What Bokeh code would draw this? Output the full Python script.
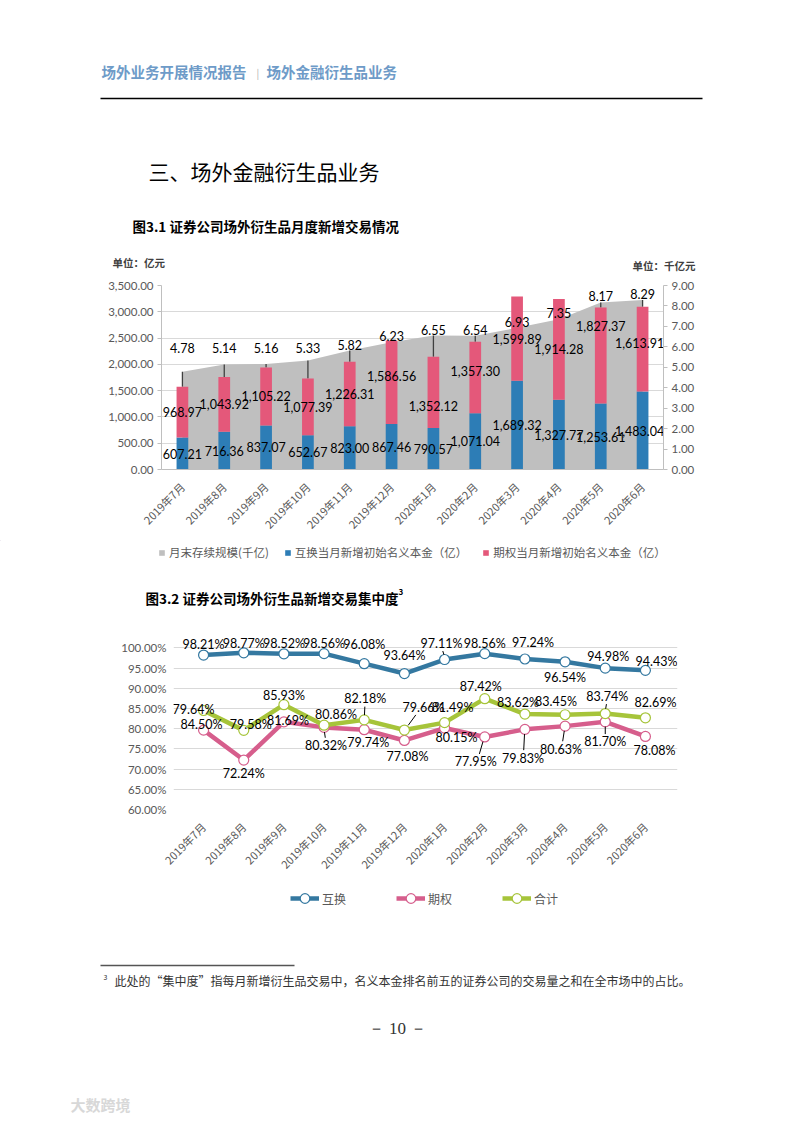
import math
import numpy as np
from bokeh.plotting import figure
from bokeh.models import (Range1d, LinearAxis, FixedTicker, NumeralTickFormatter,
                          PrintfTickFormatter, Legend, LegendItem)
from bokeh.embed import file_html
from bokeh.resources import INLINE
from bokeh.core.properties import value

# ---------------- data ----------------
months = ["2019年7月", "2019年8月", "2019年9月", "2019年10月", "2019年11月", "2019年12月",
          "2020年1月", "2020年2月", "2020年3月", "2020年4月", "2020年5月", "2020年6月"]
scale_qianyi = [4.78, 5.14, 5.16, 5.33, 5.82, 6.23, 6.55, 6.54, 6.93, 7.35, 8.17, 8.29]
swap_new = [607.21, 716.36, 837.07, 652.67, 823.00, 867.46, 790.57, 1071.04, 1689.32, 1327.77, 1253.61, 1483.04]
option_new = [968.97, 1043.92, 1105.22, 1077.39, 1226.31, 1586.56, 1352.12, 1357.30, 1599.89, 1914.28, 1827.37, 1613.91]
conc_swap = [98.21, 98.77, 98.52, 98.56, 96.08, 93.64, 97.11, 98.56, 97.24, 96.54, 94.98, 94.43]
conc_option = [79.64, 72.24, 81.69, 80.32, 79.74, 77.08, 80.15, 77.95, 79.83, 80.63, 81.70, 78.08]
conc_total = [84.50, 79.58, 85.93, 80.86, 82.18, 79.66, 81.49, 87.42, 83.62, 83.45, 83.74, 82.69]
left_ticks = [0, 500, 1000, 1500, 2000, 2500, 3000, 3500]
right_ticks = [0, 1, 2, 3, 4, 5, 6, 7, 8, 9]
pct_ticks = [60, 65, 70, 75, 80, 85, 90, 95, 100]
legend1_labels = ["月末存续规模(千亿)", "互换当月新增初始名义本金（亿）", "期权当月新增初始名义本金（亿）"]
legend2_labels = ["互换", "期权", "合计"]

# ---------------- styles ----------------
CJK_S = "Noto Sans CJK SC"
NUM_S = "Lato"
CJK = value(CJK_S)
NUM = value(NUM_S)
GRAY_TXT = "#595959"
BLUE_BAR, PINK_BAR, AREA = "#2d7db6", "#e4587a", "#bfbfbf"
C_SWAP, C_OPT, C_TOT = "#3478a0", "#d65e8c", "#a6c43a"
W = 785
OFF = -100   # off-canvas anchor for legend key glyphs (not shown in any frame)

# label nudges for figure 3.1 (screen px)
opt_dy = [0, 0, 0, 0, 0, -6, 14, -7, 0, 0, -30, -6]
last_dx = [0, 0, 0, 0, 0, 0, 0, 0, 0, 0, 0, -3]
# label pixel offsets for figure 3.2 (dx, dy; screen px)
swap_off = [(0, -11), (0, -9), (0, -10), (0, -10), (0, -19), (0, -18), (-3, -16), (0, -10), (8, -16), (0, 16), (3, -12), (11, -9)]
tot_off = [(-2, 14), (7, -6), (0, -9), (12, -11), (1, -21), (19, -23), (8, -15), (-4, -12), (-7, -12), (-9, -13), (2, -17), (10, -15)]
opt_off = [(-10, -21), (0, 13), (4, -1), (2, 18), (4, 13), (3, 16), (12, 9), (-9, 25), (-2, 29), (-4, 23), (0, 20), (9, 14)]
swap_lead, tot_lead, opt_lead = [6], [4, 5, 10], [3, 7, 8, 9, 10]


def text_fig(y0, y1):
    f = figure(width=W, height=y1 - y0, x_range=Range1d(0, W), y_range=Range1d(y1, y0),
               output_backend="svg", toolbar_location=None,
               min_border_left=0, min_border_right=0, min_border_top=0, min_border_bottom=0,
               x_axis_location=None, y_axis_location=None)
    f.grid.visible = False
    f.outline_line_color = None
    return f


def put(f, x, y, s, size, color="#000000", bold=False, align="left", font=CJK):
    f.text(x=[x], y=[y], text=[s], text_font=font, text_font_size=size,
           text_font_style="bold" if bold else "normal", text_color=color,
           text_align=align, text_baseline="middle")


# ---------------- header (page y 0..275) ----------------
hdr = text_fig(0, 275)
put(hdr, 101, 71, "场外业务开展情况报告", "14.5px", "#6e9bc8", bold=True)
put(hdr, 256, 72, "|", "10px", "#b0b0b0")
put(hdr, 266, 71, "场外金融衍生品业务", "14.5px", "#6e9bc8", bold=True)
hdr.segment(x0=[100], y0=[98], x1=[702], y1=[98], line_color="#000000", line_width=1.5)
put(hdr, 148, 170, "三、场外金融衍生品业务", "21px")
put(hdr, 132, 225, "图3.1 证券公司场外衍生品月度新增交易情况", "13.5px", bold=True)
put(hdr, 112, 262, "单位：亿元", "10.5px", "#404040", bold=True)
put(hdr, 632, 265, "单位：千亿元", "10.5px", "#404040", bold=True)

# ---------------- chart 3.1 (page y 275..540) ----------------
n = len(months)
xs = np.arange(n) + 0.5
swap_a = np.array(swap_new)
opt_a = np.array(option_new)
scale_a = np.array(scale_qianyi)
LMAX, RMAX = left_ticks[-1], right_ticks[-1]

p1 = figure(width=W, height=265, x_range=Range1d(0, n), y_range=Range1d(0, LMAX),
            output_backend="svg", toolbar_location=None,
            min_border_left=161, min_border_right=122, min_border_top=10, min_border_bottom=60)
p1.extra_y_ranges = {"r": Range1d(0, RMAX)}
p1.outline_line_color = None
p1.xgrid.visible = False
p1.ygrid.grid_line_color = "#d9d9d9"
p1.ygrid.ticker = FixedTicker(ticks=left_ticks)

p1.yaxis.ticker = FixedTicker(ticks=left_ticks)
p1.yaxis.formatter = NumeralTickFormatter(format="0,0.00")
rax = LinearAxis(y_range_name="r", ticker=FixedTicker(ticks=right_ticks),
                 formatter=NumeralTickFormatter(format="0.00"))
p1.add_layout(rax, "right")
for ax in (p1.yaxis[0], rax):
    ax.axis_line_color = "#bfbfbf"
    ax.major_tick_line_color = "#bfbfbf"
    ax.major_tick_out = 4
    ax.major_tick_in = 0
    ax.minor_tick_line_color = None
    ax.major_label_text_font = NUM_S
    ax.major_label_text_font_size = "11.5px"
    ax.major_label_text_color = GRAY_TXT
    ax.major_label_standoff = 4
p1.xaxis.ticker = FixedTicker(ticks=list(xs))
p1.xaxis.major_label_overrides = {float(x): m for x, m in zip(xs, months)}
p1.xaxis.major_label_orientation = math.pi / 4
p1.xaxis.axis_line_color = "#bfbfbf"
p1.xaxis.major_tick_line_color = None
p1.xaxis.minor_tick_line_color = None
p1.xaxis.major_label_text_font = CJK_S
p1.xaxis.major_label_text_font_size = "11px"
p1.xaxis.major_label_text_color = GRAY_TXT
p1.xaxis.major_label_standoff = 9

p1.varea(x=xs, y1=0, y2=scale_a, y_range_name="r", fill_color=AREA)
area_left = scale_a * LMAX / RMAX
tops = swap_a + opt_a
mask = tops < area_left
p1.segment(x0=xs[mask], y0=area_left[mask], x1=xs[mask], y1=tops[mask], line_color="#404040", line_width=1.3)
p1.vbar(x=xs, bottom=0, top=swap_a, width=0.28, fill_color=BLUE_BAR, line_color=None)
p1.vbar(x=xs, bottom=swap_a, top=tops, width=0.28, fill_color=PINK_BAR, line_color=None)

lab_kw = dict(text_font=NUM, text_font_size="12.5px", text_color="#000000",
              text_align="center", text_baseline="middle")
p1.text(x=xs, y=np.maximum(scale_a, 5.65), y_range_name="r", y_offset=-6,
        text=[f"{v:.2f}" for v in scale_qianyi], **lab_kw)
p1.text(x=xs, y=swap_a / 2, x_offset=last_dx, text=[f"{v:,.2f}" for v in swap_new], **lab_kw)
p1.text(x=xs, y=swap_a + opt_a / 2, x_offset=last_dx, y_offset=opt_dy,
        text=[f"{v:,.2f}" for v in option_new], **lab_kw)

# ---------------- legend 1 + title 3.2 (page y 540..630) ----------------
mid = text_fig(540, 630)
k_area = mid.varea(x=[OFF, OFF + 1], y1=[OFF, OFF], y2=[OFF + 1, OFF + 1], fill_color=AREA)
k_swap = mid.vbar(x=[OFF], bottom=[OFF], top=[OFF + 1], width=1, fill_color=BLUE_BAR, line_color=None)
k_opt = mid.vbar(x=[OFF], bottom=[OFF], top=[OFF + 1], width=1, fill_color=PINK_BAR, line_color=None)
leg1 = Legend(items=[LegendItem(label=lab, renderers=[r])
                     for lab, r in zip(legend1_labels, [k_area, k_swap, k_opt])],
              orientation="horizontal", location=(158, 90 - 20), glyph_width=7, glyph_height=7,
              label_standoff=4, spacing=15, padding=0, margin=0, label_height=16,
              label_text_font=CJK_S, label_text_font_size="11.5px", label_text_color=GRAY_TXT,
              border_line_color=None, background_fill_alpha=0)
mid.add_layout(leg1)
put(mid, 145, 597, "图3.2 证券公司场外衍生品新增交易集中度", "13.5px", bold=True)
put(mid, 398, 591, "3", "8px", bold=True)

# ---------------- chart 3.2 (page y 630..880) ----------------
CAT_PX = 482 / n                      # px per month
PCT_PX = 171 / (pct_ticks[-1] - pct_ticks[0])   # px per percent point
pad_l, pad_r, pad_t = 10, 12, 12      # extra room for labels (px)
p2 = figure(width=W, height=250,
            x_range=Range1d(-pad_l / CAT_PX, n + pad_r / CAT_PX),
            y_range=Range1d(pct_ticks[0], pct_ticks[-1] + pad_t / PCT_PX),
            output_backend="svg", toolbar_location=None,
            min_border_left=173, min_border_right=W - 677, min_border_top=6, min_border_bottom=61)
p2.outline_line_color = None
p2.xgrid.visible = False
p2.ygrid.grid_line_color = "#d9d9d9"
p2.ygrid.ticker = FixedTicker(ticks=pct_ticks)
p2.yaxis.ticker = FixedTicker(ticks=pct_ticks)
p2.yaxis.formatter = PrintfTickFormatter(format="%.2f%%")
p2.yaxis.axis_line_color = None
p2.yaxis.major_tick_line_color = None
p2.yaxis.minor_tick_line_color = None
p2.yaxis.major_label_text_font = NUM_S
p2.yaxis.major_label_text_font_size = "11.5px"
p2.yaxis.major_label_text_color = GRAY_TXT
p2.yaxis.major_label_standoff = 1
p2.xaxis.ticker = FixedTicker(ticks=list(xs))
p2.xaxis.major_label_overrides = {float(x): m for x, m in zip(xs, months)}
p2.xaxis.major_label_orientation = math.pi / 4
p2.xaxis.axis_line_color = None
p2.xaxis.major_tick_line_color = None
p2.xaxis.minor_tick_line_color = None
p2.xaxis.major_label_text_font = CJK_S
p2.xaxis.major_label_text_font_size = "11px"
p2.xaxis.major_label_text_color = GRAY_TXT
p2.xaxis.major_label_standoff = 9

series = [(conc_swap, C_SWAP, swap_off, swap_lead),
          (conc_option, C_OPT, opt_off, opt_lead),
          (conc_total, C_TOT, tot_off, tot_lead)]
for vals, col, offs, leads in series:
    p2.line(xs, vals, line_color=col, line_width=4.5)
    p2.scatter(xs, vals, size=10, fill_color="#ffffff", line_color=col, line_width=1.2)
    v = np.array(vals)
    if leads:
        li = np.array(leads)
        dx = np.array([offs[i][0] for i in leads], dtype=float)
        dy = np.array([offs[i][1] for i in leads], dtype=float)
        sg = np.sign(dy)
        p2.segment(x0=xs[li] + dx * 0.2 / CAT_PX, y0=v[li] - sg * 5 / PCT_PX,
                   x1=xs[li] + dx * 0.6 / CAT_PX, y1=v[li] - (dy - sg * 7) / PCT_PX,
                   line_color="#000000", line_width=1)

for vals, col, offs, leads in series:
    p2.text(x=xs, y=vals, text=[f"{v:.2f}%" for v in vals],
            x_offset=[o[0] for o in offs], y_offset=[o[1] for o in offs],
            text_font=NUM, text_font_size="12.5px", text_color="#000000",
            text_align="center", text_baseline="middle")

# ---------------- legend 2 + footer (page y 880..1114) ----------------
ftr = text_fig(880, 1114)
items2 = []
for lab, (vals, col, offs, leads) in zip(legend2_labels, series):
    kl = ftr.line(x=[OFF, OFF + 1], y=[OFF, OFF], line_color=col, line_width=4.5)
    ks = ftr.scatter(x=[OFF], y=[OFF], size=10, fill_color="#ffffff", line_color=col, line_width=1.2)
    items2.append(LegendItem(label=lab, renderers=[kl, ks]))
leg2 = Legend(items=items2, orientation="horizontal", location=(290, 234 - 18 - 12),
              glyph_width=29, glyph_height=24, label_standoff=3, spacing=50, padding=0, margin=0,
              label_text_font=CJK_S, label_text_font_size="12px", label_text_color=GRAY_TXT,
              border_line_color=None, background_fill_alpha=0)
ftr.add_layout(leg2)
ftr.segment(x0=[100], y0=[965], x1=[294], y1=[965], line_color="#555555", line_width=1.5)
put(ftr, 103, 976, "3", "7px", "#333333")
put(ftr, 114, 980, "此处的“集中度”指每月新增衍生品交易中，名义本金排名前五的证券公司的交易量之和在全市场中的占比。",
    "12px", "#333333")
put(ftr, 397, 1028, "－ 10 －", "17px", "#333333", align="center", font=value("Liberation Serif"))
put(ftr, 70, 1104, "大数跨境", "15px", "#d8d8d8", bold=True)

open("out.html", "w").write(file_html([hdr, p1, mid, p2, ftr], INLINE))
